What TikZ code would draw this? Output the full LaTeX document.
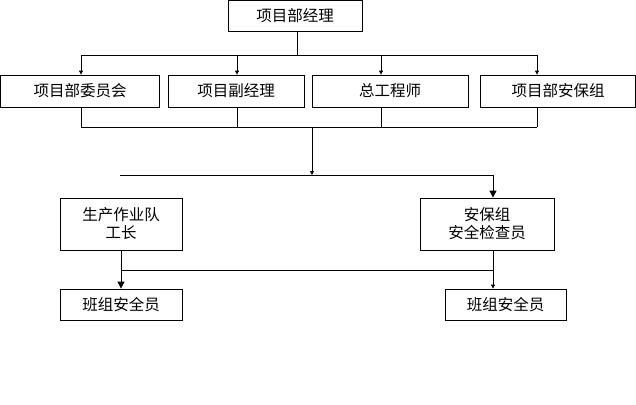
\documentclass[tikz,border=0pt]{standalone}
\usepackage{fontspec}
\setmainfont{Noto Sans CJK SC}
\usetikzlibrary{arrows.meta}
\begin{document}
\begin{tikzpicture}[x=1pt,y=-1pt,line width=0.8pt,
   box/.style={draw,rectangle,inner sep=0pt,align=center,
      font=\fontsize{15.5}{18}\selectfont},
   arr/.style={-{Triangle[length=4pt,width=4pt]}},
   bigarr/.style={-{Triangle[length=7pt,width=7pt]}}]
   \useasboundingbox (0,0) rectangle (636,404);
   \node[box,minimum width=134,minimum height=31] (pm) at (295,16) {项目部经理};
   \node[box,minimum width=159,minimum height=32] (com) at (80,91) {项目部委员会};
   \node[box,minimum width=136,minimum height=32] (vpm) at (236,91) {项目副经理};
   \node[box,minimum width=156,minimum height=32] (eng) at (390,91) {总工程师};
   \node[box,minimum width=155,minimum height=32] (sec) at (558,91) {项目部安保组};
   \node[box,minimum width=122,minimum height=52] (lead) at (121,224) {生产作业队\\工长};
   \node[box,minimum width=134,minimum height=52] (insp) at (487,224) {安保组\\安全检查员};
   \node[box,minimum width=122,minimum height=31] (crewa) at (121,304.5) {班组安全员};
   \node[box,minimum width=121,minimum height=31] (crewb) at (505.5,304.5) {班组安全员};
   \coordinate (ja) at (81,55);
   \coordinate (jb) at (237,55);
   \coordinate (jc) at (381,55);
   \coordinate (jd) at (537,55);
   \coordinate (ka) at (81,127);
   \coordinate (kd) at (537,127);
   \coordinate (km) at (312,127);
   \coordinate (mm) at (312,175);
   \coordinate (ml) at (120,175);
   \coordinate (mr) at (493,175);
   \coordinate (nl) at (121,270);
   \coordinate (nr) at (493,270);
   \draw (pm.south) ++(2,0) -- ++(0,24);
   \draw (ja) -- (jd);
   \draw[arr] (ja) -- (ja |- com.north);
   \draw[arr] (jb) -- (jb |- vpm.north);
   \draw[arr] (jc) -- (jc |- eng.north);
   \draw[arr] (jd) -- (jd |- sec.north);
   \draw (ka |- com.south) -- (ka);
   \draw (jb |- vpm.south) -- (jb |- ka);
   \draw (jc |- eng.south) -- (jc |- ka);
   \draw (kd |- sec.south) -- (kd);
   \draw (ka) -- (kd);
   \draw[arr] (km) -- (mm);
   \draw (ml) -- (mr);
   \draw[bigarr] (mr) -- (mr |- insp.north);
   \draw[bigarr] (lead.south) -- (crewa.north);
   \draw (nl) -- (nr);
   \draw[arr] (nr |- insp.south) -- (nr |- crewb.north);
\end{tikzpicture}
\end{document}
